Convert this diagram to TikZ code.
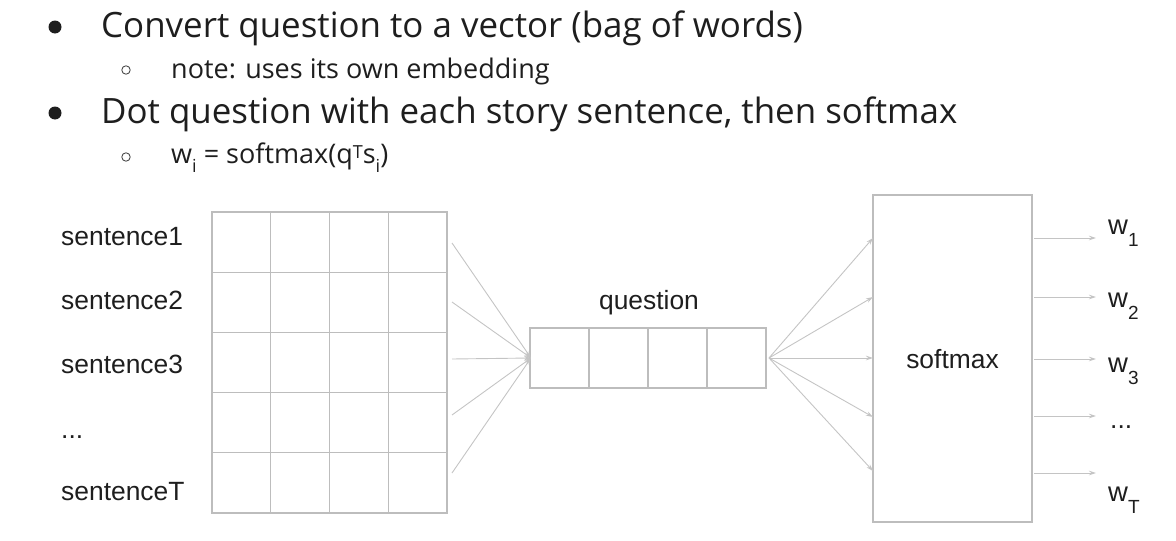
\documentclass[tikz,border=0pt]{standalone}
\usepackage{fontspec}
\setmainfont{Open Sans}
\newfontfamily\diagfont{Liberation Sans}
\usetikzlibrary{arrows.meta}
\definecolor{gridgray}{HTML}{BDBDBD}
\definecolor{arrgray}{HTML}{C4C4C4}
\definecolor{txt}{HTML}{1E1E1E}
\newcommand{\wsub}[1]{\raisebox{-12pt}{\fontsize{19}{20}\selectfont #1}}
\newcommand{\osub}[1]{\raisebox{-9pt}{\fontsize{18}{20}\selectfont #1}}
\newcommand{\osup}[1]{\raisebox{5pt}{\fontsize{18}{20}\selectfont #1}}
\tikzset{
  bigtext/.style={anchor=base west, inner sep=0pt, text=txt, font=\fontsize{34.9}{40}\selectfont},
  subtext/.style={anchor=base west, inner sep=0pt, text=txt, font=\fontsize{27}{32}\selectfont},
  lbl/.style={anchor=base west, inner sep=0pt, text=txt, font=\diagfont\fontsize{26.4}{30}\selectfont},
  wlbl/.style={anchor=base west, inner sep=0pt, text=txt, font=\diagfont\fontsize{27.5}{30}\selectfont},
  cell/.style={draw=gridgray, line width=1.2pt, minimum width=58.75pt, minimum height=60.2pt, inner sep=0pt, outer sep=0pt},
  qcell/.style={draw=gridgray, line width=1.2pt, minimum width=59pt, minimum height=60pt, inner sep=0pt, outer sep=0pt},
  conn/.style={draw=arrgray, line width=0.9pt, -{Stealth[length=7pt,width=4.5pt]}},
}
\begin{document}
\begin{tikzpicture}[x=1pt,y=-1pt]
\useasboundingbox (0,0) rectangle (1176,541);
% bullets
\fill[txt] (55,27) circle (6.5);
\draw[txt!80, line width=0.9pt] (126,70) circle (4.2);
\fill[txt] (55,113) circle (6.5);
\draw[txt!80, line width=0.9pt] (126,157) circle (4.2);
\node[bigtext] (b1) at (101,37) {Convert question to a vector (bag of words)};
\node[subtext] (b2) at (171,78) {note: uses its own embedding};
\node[bigtext] (b3) at (101,123) {Dot question with each story sentence, then softmax};
\node[subtext] (b4) at (171,163) {w\osub{i} = softmax(q\osup{T}s\osub{i})};
% sentence labels
\node[lbl] (s1) at (61,245) {sentence1};
\node[lbl] (s2) at (61,309) {sentence2};
\node[lbl] (s3) at (61,373) {sentence3};
\node[lbl] (sd) at (61,438) {...};
\node[lbl] (sT) at (61,500) {sentenceT};
% grid of sentences
\foreach \r in {1,...,5}{
  \foreach \c in {1,...,4}{
    \node[cell] (g\r\c) at ({212+58.75*(\c-0.5)},{212+60.2*(\r-0.5)}) {};
  }
}
% question vector
\node[anchor=base, inner sep=0pt, text=txt, font=\diagfont\fontsize{26.4}{30}\selectfont] (qlab) at (649,309) {question};
\foreach \c in {1,...,4}{
  \node[qcell] (q\c) at ({530+59*(\c-0.5)},358) {};
}
% softmax box
\node[draw=gridgray, line width=1.2pt, minimum width=159pt, minimum height=327pt, inner sep=0pt] (sm) at (952.5,358.5) {};
\node[anchor=base, inner sep=0pt, text=txt, font=\diagfont\fontsize{26.4}{30}\selectfont] (smlab) at (952.5,368) {softmax};
% connection points
\coordinate (qin) at (531,358);
\coordinate (qout) at (769,358);
\foreach \r/\y in {1/243,2/302,3/359,4/415,5/473}{
  \coordinate (gs\r) at (452,\y);
  \draw[conn] (gs\r) -- (qin);
}
\foreach \r/\y in {1/238,2/297,3/358,4/417,5/471}{
  \coordinate (si\r) at (873,\y);
  \draw[conn] (qout) -- (si\r);
}
\foreach \r/\y in {1/238,2/297,3/359,4/416,5/473}{
  \coordinate (so\r) at (1034,\y);
  \coordinate (se\r) at (1096,\y);
  \draw[conn] (so\r) -- (se\r);
}
% output labels
\node[wlbl] (w1) at (1108,234) {w\wsub{1}};
\node[wlbl] (w2) at (1108,307) {w\wsub{2}};
\node[wlbl] (w3) at (1108,372) {w\wsub{3}};
\node[lbl] (wd) at (1110,428) {...};
\node[wlbl] (wT) at (1108,501) {w\wsub{T}};
\end{tikzpicture}
\end{document}
